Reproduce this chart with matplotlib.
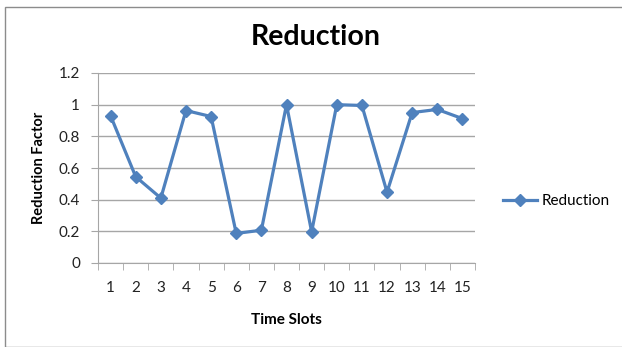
import numpy as np
import matplotlib
matplotlib.use("Agg")
import matplotlib.pyplot as plt
from matplotlib.patches import Rectangle

# Data
time_slots = list(range(1, 16))
reduction = [0.93, 0.545, 0.41, 0.963, 0.925, 0.187, 0.207, 1.0, 0.197, 1.0, 0.995, 0.447, 0.95, 0.97, 0.912]
y_ticks = [0, 0.2, 0.4, 0.6, 0.8, 1, 1.2]
y_tick_labels = ["0", "0.2", "0.4", "0.6", "0.8", "1", "1.2"]

plt.rcParams['font.family'] = ['Lato', 'DejaVu Sans']

W, H = 622, 347
fig = plt.figure(figsize=(W / 100, H / 100), dpi=100)

# outer chart frame
fig.patches.append(Rectangle((5 / W, 0), 1.2, 1 - 7 / H, transform=fig.transFigure,
                             fill=False, edgecolor='#8c8c8c', linewidth=1.0))

ax = fig.add_axes([98 / W, 1 - 263 / H, (475 - 98) / W, (263 - 73) / H])
line_color = '#4F81BD'
grid_color = '#a6a6a6'

ax.plot(time_slots, reduction, color=line_color, linewidth=2.3, marker='D',
        markersize=6.5, label='Reduction', clip_on=False)

ax.set_xlim(0.5, 15.5)
ax.set_ylim(0, 1.2)
ax.set_yticks(y_ticks)
ax.set_yticklabels(y_tick_labels)
ax.set_xticks(time_slots)
ax.set_xticks(np.arange(0.5, 16, 1), minor=True)
ax.tick_params(axis='x', which='major', length=0, pad=13, labelsize=11, colors='#222222')
ax.tick_params(axis='x', which='minor', length=5, color=grid_color, direction='out')
ax.tick_params(axis='y', length=5, color=grid_color, labelsize=11, pad=8, colors='#222222')
ax.tick_params(axis='y', colors=grid_color, labelcolor='#222222')

ax.yaxis.grid(True, color=grid_color, linewidth=1.0)
ax.set_axisbelow(True)
for side in ['top', 'right']:
    ax.spines[side].set_visible(False)
ax.spines['left'].set_color(grid_color)
ax.spines['bottom'].set_color(grid_color)

ax.set_xlabel('Time Slots', fontsize=11, fontweight='bold', labelpad=13)
ax.set_ylabel('Reduction Factor', fontsize=10.5, fontweight='bold', labelpad=9)

fig.text(316 / W, 1 - 37 / H, 'Reduction', fontsize=20.5, fontweight='bold',
         ha='center', va='center')

ax.legend(loc='center left', bbox_to_anchor=(503 / W, 1 - 201 / H),
          bbox_transform=fig.transFigure, frameon=False, fontsize=11,
          handlelength=2.2, handletextpad=0.3, borderpad=0, borderaxespad=0)

fig.savefig('out.png', dpi=100)
